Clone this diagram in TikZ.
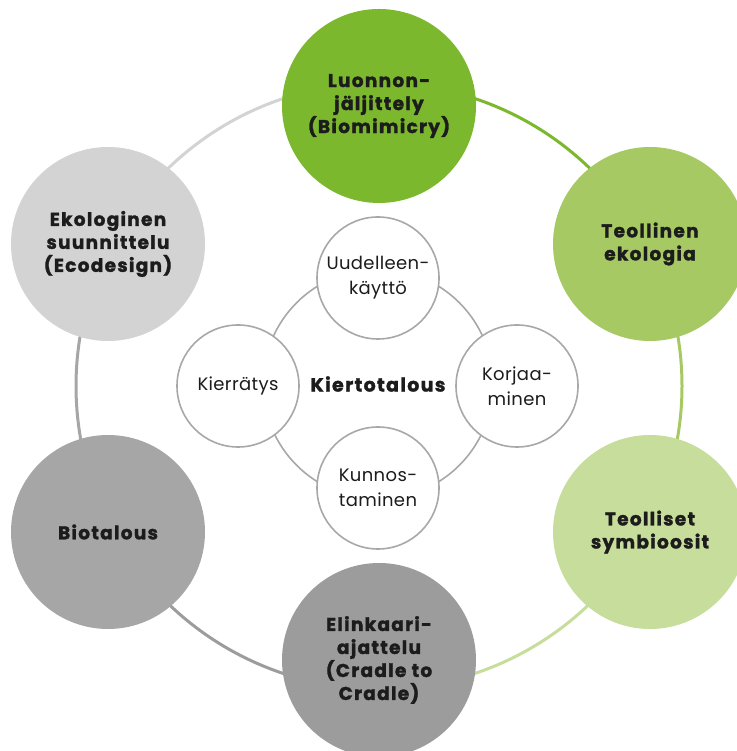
\documentclass[tikz,border=0pt]{standalone}
\usepackage{fontspec}
\setmainfont{Poppins}[LetterSpace=2]
\newfontfamily\heavyfont{Poppins}[LetterSpace=7, BoldFeatures={FakeBold=1.6}]
\usetikzlibrary{backgrounds}
\definecolor{biomim}{HTML}{7CB82E}
\definecolor{teoleko}{HTML}{A6C963}
\definecolor{teolsym}{HTML}{C6DD9B}
\definecolor{elinkaari}{HTML}{9C9C9C}
\definecolor{biotal}{HTML}{A6A6A6}
\definecolor{ekodes}{HTML}{D3D3D3}
\definecolor{ringgray}{HTML}{A8A8A8}
\definecolor{textdark}{HTML}{1C1C1C}

\begin{document}
\begin{tikzpicture}[x=1pt, y=1pt,
    bigcircle/.style={circle, minimum size=194pt, inner sep=0pt, align=center,
      text=textdark, font=\heavyfont\bfseries\fontsize{18.5}{23}\selectfont},
    smallcircle/.style={circle, draw=ringgray, line width=1.6pt, fill=white,
      minimum size=122pt, inner sep=0pt, align=center,
      text=textdark, font=\fontsize{18}{25}\selectfont},
    ringarc/.style={line width=3pt}]
  \useasboundingbox (0,0) rectangle (736,751);

  % centres of the two rings
  \coordinate (ctr) at (379,365);
  \coordinate (ictr) at (378,367);

  % outer circles
  \node[bigcircle, fill=biomim] (biomimicry) at (379,645) {Luonnon-\\jäljittely\\(Biomimicry)};
  \node[bigcircle, fill=teoleko] (ecology) at (650,507) {Teollinen\\ekologia};
  \node[bigcircle, fill=teolsym] (symbiosis) at (650,219) {Teolliset\\symbioosit};
  \node[bigcircle, fill=elinkaari] (cradle) at (379,91) {Elinkaari-\\ajattelu\\(Cradle to\\Cradle)};
  \node[bigcircle, fill=biotal] (bioeconomy) at (108,219) {Biotalous};
  \node[bigcircle, fill=ekodes] (ecodesign) at (108,507) {Ekologinen\\suunnittelu\\(Ecodesign)};

  % inner circles
  \node[smallcircle] (reuse) at (378,473) {Uudelleen-\\käyttö};
  \node[smallcircle] (repair) at (517,365) {Korjaa-\\minen};
  \node[smallcircle] (refurbish) at (378,263) {Kunnos-\\taminen};
  \node[smallcircle] (recycle) at (238,365) {Kierrätys};
  \node[text=textdark, font=\heavyfont\bfseries\fontsize{19}{20}\selectfont] (circular) at (ictr) {Kiertotalous};

  % the rings behind the circles
  \begin{scope}[on background layer]
    \draw[ringarc, biomim] ([shift={(90:303)}]ctr) arc[start angle=90, end angle=28, radius=303];
    \draw[ringarc, teoleko] ([shift={(28:303)}]ctr) arc[start angle=28, end angle=-28, radius=303];
    \draw[ringarc, teolsym] ([shift={(-28:303)}]ctr) arc[start angle=-28, end angle=-90, radius=303];
    \draw[ringarc, elinkaari] ([shift={(-90:303)}]ctr) arc[start angle=-90, end angle=-152, radius=303];
    \draw[ringarc, biotal] ([shift={(-152:303)}]ctr) arc[start angle=-152, end angle=-208, radius=303];
    \draw[ringarc, ekodes] ([shift={(152:303)}]ctr) arc[start angle=152, end angle=90, radius=303];
    \draw[ringgray, line width=1.6pt] (ictr) circle[radius=115];
  \end{scope}
\end{tikzpicture}
\end{document}
